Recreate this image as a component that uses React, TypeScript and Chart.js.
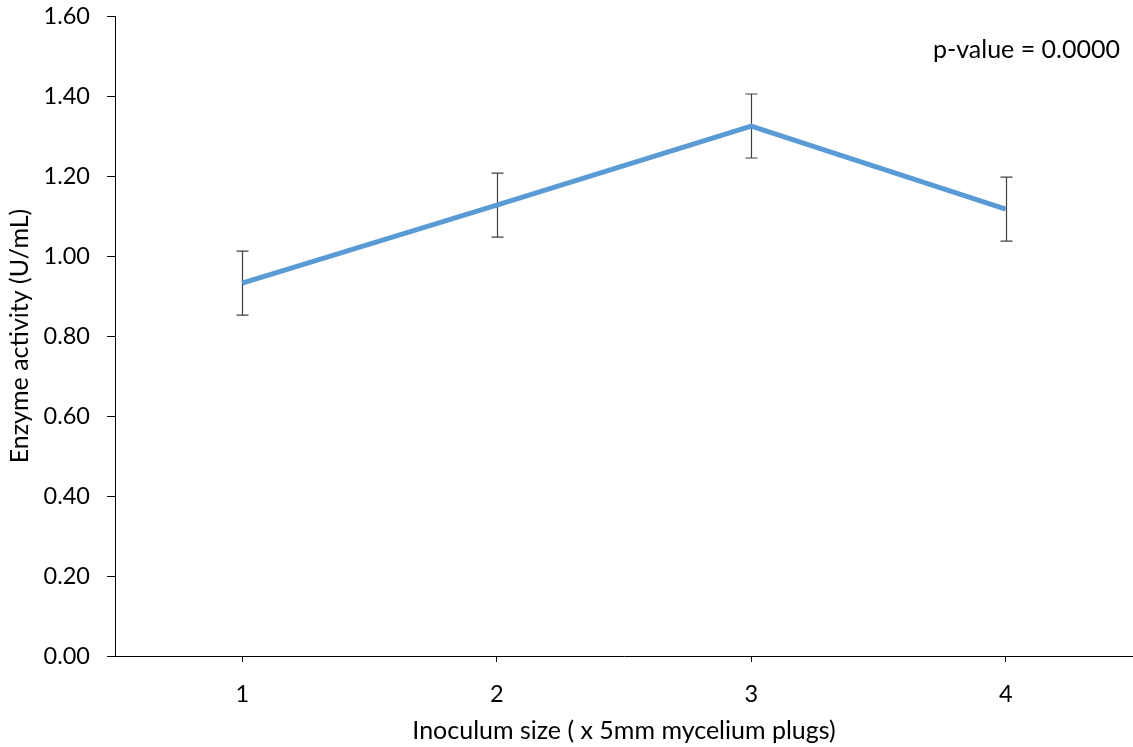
import React, { useEffect, useRef } from "react";
import { Chart, registerables } from "chart.js";

Chart.register(...registerables);

const categories = ["1", "2", "3", "4"];
const activity = [0.932, 1.127, 1.325, 1.117];
const errors = [0.08, 0.08, 0.08, 0.08];
const yMin = 0;
const yMax = 1.6;
const yStep = 0.2;
const annotationText = "p-value = 0.0000";
const xTitle = "Inoculum size ( x 5mm mycelium plugs)";
const yTitle = "Enzyme activity (U/mL)";

const FONT = "Lato, 'Open Sans', sans-serif";

const errorBarPlugin = {
  id: "errorBars",
  beforeDatasetsDraw(chart: any) {
    const ctx = chart.ctx;
    const meta = chart.getDatasetMeta(0);
    const yScale = chart.scales.y;
    ctx.save();
    ctx.strokeStyle = "#404040";
    ctx.lineWidth = 1.2;
    meta.data.forEach((pt: any, i: number) => {
      const x = Math.round(pt.x) + 0.5;
      const top = yScale.getPixelForValue(activity[i] + errors[i]);
      const bot = yScale.getPixelForValue(activity[i] - errors[i]);
      ctx.beginPath();
      ctx.moveTo(x, top);
      ctx.lineTo(x, bot);
      ctx.moveTo(x - 6, top);
      ctx.lineTo(x + 6, top);
      ctx.moveTo(x - 6, bot);
      ctx.lineTo(x + 6, bot);
      ctx.stroke();
    });
    ctx.restore();
  },
  afterDraw(chart: any) {
    const ctx = chart.ctx;
    ctx.save();
    ctx.font = `25px ${FONT}`;
    ctx.fillStyle = "#000000";
    ctx.textAlign = "right";
    ctx.textBaseline = "middle";
    ctx.fillText(annotationText, 1120, 50);
    ctx.restore();
  },
};

export default function App() {
  const ref = useRef<HTMLCanvasElement>(null);
  useEffect(() => {
    if (!ref.current) return;
    const chart = new Chart(ref.current, {
      type: "line",
      data: {
        labels: categories,
        datasets: [
          {
            data: activity,
            borderColor: "#5B9BD5",
            borderWidth: 5,
            pointRadius: 0,
            pointHoverRadius: 0,
            fill: false,
            tension: 0,
          },
        ],
      },
      options: {
        responsive: false,
        animation: false,
        events: [],
        layout: { padding: { top: 16, right: 0, left: 0, bottom: 0 } },
        plugins: {
          legend: { display: false },
          tooltip: { enabled: false },
          title: { display: false },
        },
        scales: {
          x: {
            type: "category",
            offset: true,
            grid: {
              offset: false,
              drawOnChartArea: false,
              drawTicks: true,
              tickLength: 6,
              color: "#000000",
            },
            border: { display: true, color: "#000000", width: 1 },
            ticks: {
              color: "#000000",
              font: { family: FONT, size: 23.5 },
              padding: 18,
            },
            title: {
              display: true,
              text: xTitle,
              color: "#000000",
              font: { family: FONT, size: 25 },
              padding: { top: 0, bottom: 1 },
            },
            afterFit(scale: any) {
              scale.height = 91;
              scale.paddingLeft = 0;
              scale.paddingRight = 0;
            },
          },
          y: {
            min: yMin,
            max: yMax,
            grid: {
              drawOnChartArea: false,
              drawTicks: true,
              tickLength: 8,
              color: "#000000",
            },
            border: { display: true, color: "#000000", width: 1 },
            ticks: {
              stepSize: yStep,
              color: "#000000",
              font: { family: FONT, size: 23.5 },
              padding: 17,
              callback: (v: any) => Number(v).toFixed(2),
            },
            title: {
              display: true,
              text: yTitle,
              color: "#000000",
              font: { family: FONT, size: 25 },
              padding: { top: 5, bottom: 0 },
            },
            afterFit(scale: any) {
              scale.width = 115;
              scale.paddingTop = 0;
              scale.paddingBottom = 0;
            },
          },
        },
      },
      plugins: [errorBarPlugin],
    });
    return () => chart.destroy();
  }, []);
  return (
    <div style={{ position: "absolute", left: 0, top: 0, width: 1133, height: 747, background: "#fff" }}>
      <canvas ref={ref} width={1133} height={747} />
    </div>
  );
}
